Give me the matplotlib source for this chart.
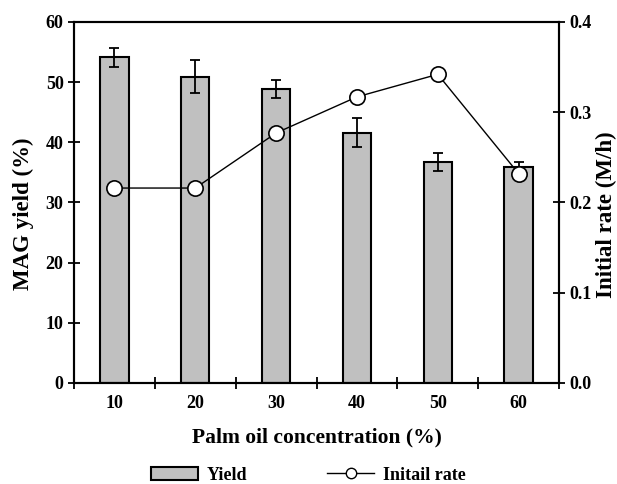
import matplotlib
matplotlib.use("Agg")
import matplotlib.pyplot as plt
import numpy as np
from matplotlib.patches import Patch
from matplotlib.lines import Line2D

categories = ["10", "20", "30", "40", "50", "60"]
yield_vals = [54.1, 50.9, 48.9, 41.6, 36.7, 35.9]
yield_err = [1.6, 2.7, 1.5, 2.4, 1.5, 0.8]
rate_vals = [0.216, 0.216, 0.277, 0.317, 0.342, 0.232]

plt.rcParams['font.family'] = ['Liberation Serif', 'DejaVu Serif']
plt.rcParams['font.weight'] = 'bold'
plt.rcParams['axes.labelweight'] = 'bold'
FS = 13
YLFS = 16.5

fig = plt.figure(figsize=(6.17, 4.84), dpi=100)
ax = fig.add_axes([0.120, 0.2087, 0.786, 0.7459])
x = np.arange(len(categories))
ax.bar(x, yield_vals, width=0.35, color='#c0c0c0', edgecolor='black', linewidth=1.5, zorder=2)
ax.errorbar(x, yield_vals, yerr=yield_err, fmt='none', ecolor='black', elinewidth=1.3,
            capsize=3.5, capthick=1.3, zorder=3)
ax.set_xlim(-0.5, len(categories) - 0.5)
ax.set_ylim(0, 60)
ax.set_yticks(range(0, 61, 10))
ax.set_xticks(x)
ax.set_xticklabels(categories, fontsize=FS, fontweight='bold')
ax.set_xticks(np.arange(-0.5, len(categories), 1.0), minor=True)
ax.tick_params(axis='x', which='major', length=0, pad=9)
ax.tick_params(axis='x', which='minor', direction='inout', length=9, width=1.3)
ax.tick_params(axis='y', direction='inout', length=9, width=1.3, labelsize=FS, pad=3)
for lbl in ax.get_yticklabels():
    lbl.set_fontweight('bold')
ax.set_ylabel("MAG yield (%)", fontsize=YLFS, fontweight='bold')
ax.yaxis.set_label_coords(-0.0825, 0.47)
ax.set_xlabel("Palm oil concentration (%)", fontsize=15.5, fontweight='bold', labelpad=11)
for s in ax.spines.values():
    s.set_linewidth(1.5)

ax2 = ax.twinx()
ax2.plot(x, rate_vals, color='black', linewidth=1.0, marker='o', markersize=11,
         markerfacecolor='white', markeredgecolor='black', markeredgewidth=1.2, zorder=4)
ax2.set_ylim(0, 0.4)
ax2.set_yticks([0.0, 0.1, 0.2, 0.3, 0.4])
ax2.set_yticklabels([f"{v:.1f}" for v in [0.0, 0.1, 0.2, 0.3, 0.4]], fontsize=FS, fontweight='bold')
ax2.tick_params(axis='y', direction='inout', length=9, width=1.3, pad=3)
ax2.set_ylabel("Initial rate (M/h)", fontsize=YLFS, fontweight='bold')
ax2.yaxis.set_label_coords(1.076, 0.465)
for s in ax2.spines.values():
    s.set_linewidth(1.5)

handles = [Patch(facecolor='#c0c0c0', edgecolor='black', linewidth=1.5, label='Yield'),
           Line2D([0], [0], color='black', linewidth=1.0, marker='o', markersize=7.5,
                  markerfacecolor='white', markeredgecolor='black', label='Initail rate')]
fig.legend(handles=handles, loc='center', bbox_to_anchor=(0.5, 0.018), ncol=2, frameon=False,
           handlelength=2.6, columnspacing=4.4, handletextpad=0.5,
           prop={'weight': 'bold', 'size': FS})

fig.savefig("out.png", dpi=100)
